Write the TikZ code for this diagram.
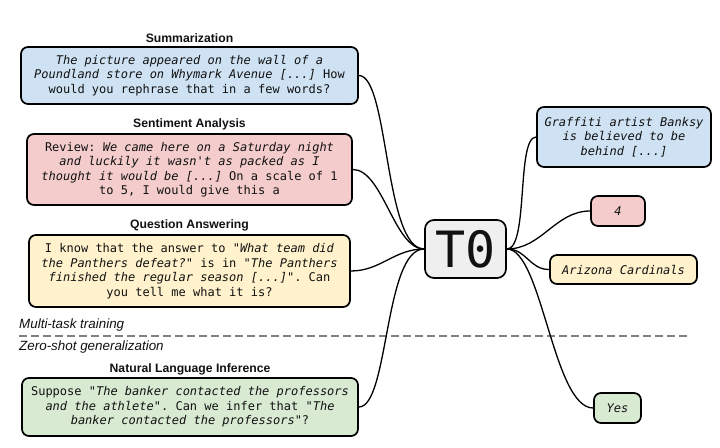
\documentclass[tikz,border=0pt]{standalone}
\usepackage{fontspec}
\setmainfont{Liberation Sans}
\setmonofont{DejaVu Sans Mono}
\definecolor{cblue}{HTML}{CFE2F3}
\definecolor{cred}{HTML}{F4CCCC}
\definecolor{cyellow}{HTML}{FFF2CC}
\definecolor{cgreen}{HTML}{D9EAD3}
\definecolor{cgray}{HTML}{EFEFEF}
\definecolor{textc}{HTML}{111111}
\definecolor{dashc}{HTML}{808080}
\begin{document}
\begin{tikzpicture}[x=1pt,y=-1pt,
  box/.style={draw=black, line width=1.7pt, rounded corners=7pt, align=center,
    inner sep=0pt, text=textc, font=\ttfamily\fontsize{12}{14.5}\selectfont},
  title/.style={font=\bfseries\fontsize{12.2}{14}\selectfont, text=textc},
  phase/.style={anchor=west, inner sep=0pt, font=\itshape\fontsize{13.4}{15}\selectfont, text=textc},
  link/.style={line width=1.3pt}]
\useasboundingbox (0,0) rectangle (720,447);

% T0 hub
\node[box, fill=cgray, rounded corners=9pt, minimum width=81pt, minimum height=58pt,
  font=\ttfamily\fontsize{50}{50}\selectfont] (t0) at (465.5,249) {T0};

% input boxes
\node[title] (tsum) at (189.5,38) {Summarization};
\node[box, fill=cblue, minimum width=337pt, minimum height=57pt] (sum) at (189.5,75.5)
  {\textit{The picture appeared on the wall of a}\\
   \textit{Poundland store on Whymark Avenue [...]} How\\
   would you rephrase that in a few words?};

\node[title] (tsen) at (189.5,124.5) {Sentiment Analysis};
\node[box, fill=cred, minimum width=325pt, minimum height=71pt] (sen) at (189.5,169.5)
  {Review: \textit{We came here on a Saturday night}\\
   \textit{and luckily it wasn't as packed as I}\\
   \textit{thought it would be [...]} On a scale of 1\\
   to 5, I would give this a};

\node[title] (tqa) at (189.5,225) {Question Answering};
\node[box, fill=cyellow, minimum width=321pt, minimum height=72pt] (qa) at (189.5,271)
  {I know that the answer to \textit{"What team did}\\
   \textit{the Panthers defeat?"} is in \textit{"The Panthers}\\
   \textit{finished the regular season [...]"}. Can\\
   you tell me what it is?};

\node[title] (tnli) at (190,369) {Natural Language Inference};
\node[box, fill=cgreen, minimum width=336pt, minimum height=58pt] (nli) at (190,407)
  {Suppose \textit{"The banker contacted the professors}\\
   \textit{and the athlete"}. Can we infer that "\textit{The}\\
   \textit{banker contacted the professors}"?};

% output boxes
\node[box, fill=cblue, minimum width=174pt, minimum height=60pt] (ban) at (624,137)
  {\textit{Graffiti artist Banksy}\\ \textit{is believed to be}\\ \textit{behind [...]}};
\node[box, fill=cred, minimum width=54pt, minimum height=30pt] (four) at (618,211) {\textit{4}};
\node[box, fill=cyellow, minimum width=147pt, minimum height=29pt] (ariz) at (623.5,269.5) {\textit{Arizona Cardinals}};
\node[box, fill=cgreen, minimum width=47pt, minimum height=30pt] (yes) at (617.5,408) {\textit{Yes}};

% phase separator
\coordinate (dl) at (19,336);
\coordinate (dr) at (690,336);
\draw[dashc, line width=2pt, dash pattern=on 8pt off 4pt] (dl) -- (dr);
\node[phase] (mt) at (19,325) {Multi-task training};
\node[phase] (zs) at (19,347) {Zero-shot generalization};

% connectors
\draw[link] (sum.east) .. controls +(30,0) and +(-40,0) .. (t0.west);
\draw[link] (sen.east) .. controls +(30,0) and +(-30,0) .. (t0.west);
\draw[link] (qa.east) .. controls +(30,0) and +(-30,0) .. (t0.west);
\draw[link] (nli.east) .. controls +(30,0) and +(-40,0) .. (t0.west);
\draw[link] (t0.east) .. controls +(22,0) and +(-20,0) .. (ban.west);
\draw[link] (t0.east) .. controls +(35,0) and +(-35,0) .. (four.west);
\draw[link] (t0.east) .. controls +(20,0) and +(-20,0) .. (ariz.west);
\draw[link] (t0.east) .. controls +(35,0) and +(-40,0) .. (yes.west);
\end{tikzpicture}
\end{document}
